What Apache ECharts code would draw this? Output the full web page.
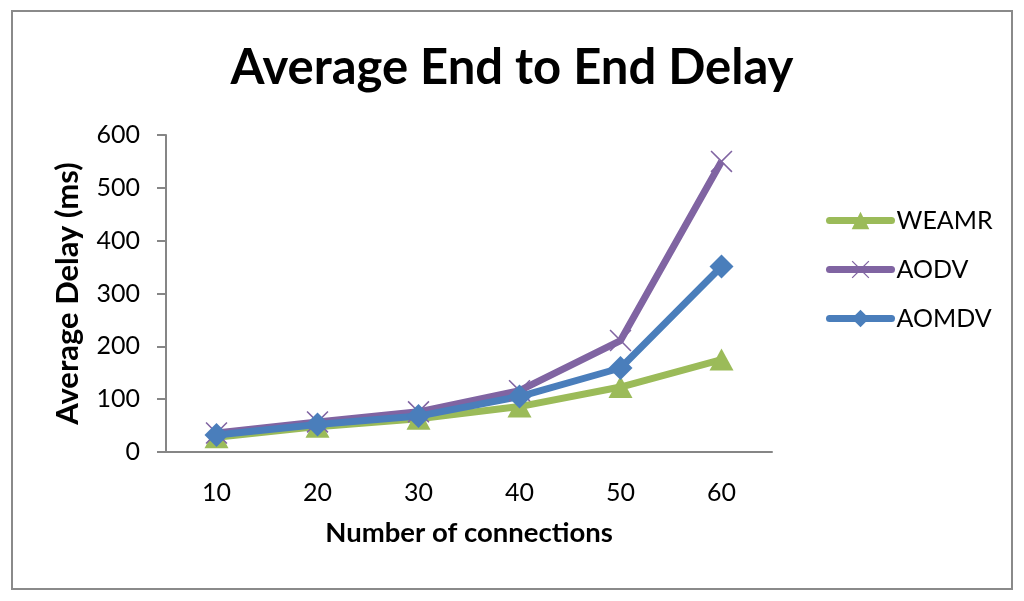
<!DOCTYPE html>
<html><head><meta charset="utf-8">
<script src="https://cdn.jsdelivr.net/npm/echarts@6/dist/echarts.min.js"></script>
<style>html,body{margin:0;padding:0;background:#fff}#c{width:1024px;height:601px}</style>
</head><body><div id="c"></div>
<script>
const categories = ['10', '20', '30', '40', '50', '60'];
const weamr = [28, 48, 63, 86, 123, 175];
const aodv = [36, 57, 76, 116, 211, 550];
const aomdv = [32, 52, 68, 105, 159, 351];
const yTicks = [0, 100, 200, 300, 400, 500, 600];

const FONT = 'Lato, "Open Sans", sans-serif';
const xPath = 'path://M0,1L1,0L10,9L19,0L20,1L11,10L20,19L19,20L10,11L1,20L0,19L9,10Z';

const chart = echarts.init(document.getElementById('c'));
chart.setOption({
  backgroundColor: '#fff',
  animation: false,
  textStyle: { fontFamily: FONT },
  graphic: [{
    type: 'rect', shape: { x: 12, y: 11, width: 1000, height: 578 },
    style: { fill: 'none', stroke: '#8a8a8a', lineWidth: 2 }, silent: true
  }],
  title: {
    text: 'Average End to End Delay', left: 'center', top: 39,
    textStyle: { fontFamily: FONT, fontSize: 49, fontWeight: 'bold', color: '#000' }
  },
  legend: {
    orient: 'vertical', left: 821, top: 203, itemGap: 24,
    itemWidth: 62, itemHeight: 22,
    lineStyle: { width: 7, cap: 'round' },
    textStyle: { fontFamily: FONT, fontSize: 25, color: '#000' },
    data: ['WEAMR', 'AODV', 'AOMDV']
  },
  grid: { left: 166, right: 252, top: 135, bottom: 149 },
  xAxis: {
    type: 'category', data: categories, boundaryGap: true,
    name: 'Number of connections', nameLocation: 'middle', nameGap: 67,
    nameTextStyle: { fontFamily: FONT, fontSize: 27.5, fontWeight: 'bold', color: '#000' },
    axisLine: { lineStyle: { color: '#868686', width: 2 } },
    axisTick: { show: false },
    axisLabel: { fontFamily: FONT, fontSize: 25, color: '#000', margin: 28 }
  },
  yAxis: {
    type: 'value', min: yTicks[0], max: yTicks[yTicks.length - 1], interval: 100,
    name: 'Average Delay (ms)', nameLocation: 'middle', nameGap: 83,
    nameTextStyle: { fontFamily: FONT, fontSize: 31, fontWeight: 'bold', color: '#000' },
    axisLine: { show: true, lineStyle: { color: '#868686', width: 2 } },
    axisTick: { show: true, length: 9, lineStyle: { color: '#868686', width: 2 } },
    splitLine: { show: false },
    axisLabel: { fontFamily: FONT, fontSize: 25, color: '#000', margin: 26 }
  },
  series: [
    { name: 'WEAMR', type: 'line', data: weamr, symbol: 'triangle', symbolSize: [24, 22],
      itemStyle: { color: '#9BBB59' }, lineStyle: { color: '#9BBB59', width: 7 } },
    { name: 'AODV', type: 'line', data: aodv, symbol: xPath, symbolSize: 22,
      itemStyle: { color: '#8064A2' }, lineStyle: { color: '#8064A2', width: 7 } },
    { name: 'AOMDV', type: 'line', data: aomdv, symbol: 'diamond', symbolSize: 24,
      itemStyle: { color: '#4A7EBB' }, lineStyle: { color: '#4A7EBB', width: 7 } }
  ]
});
</script></body></html>
